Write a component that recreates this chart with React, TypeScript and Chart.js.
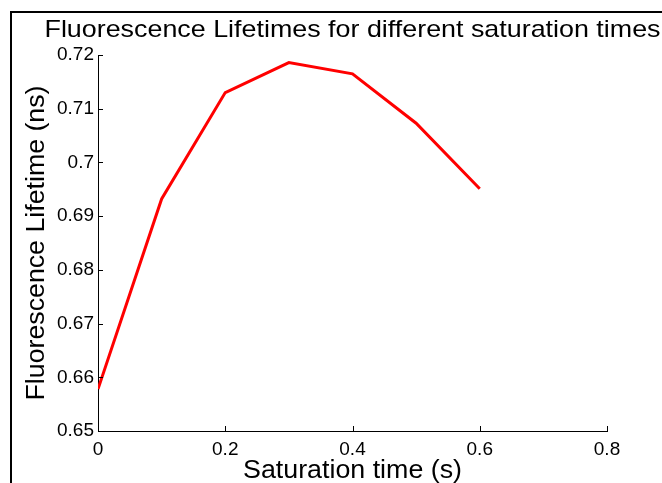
import React, { useEffect, useRef } from "react";
import { Chart, registerables } from "chart.js";

Chart.register(...registerables);

const saturationTimes = [0, 0.1, 0.2, 0.3, 0.4, 0.5, 0.6];
const lifetimes = [0.6578, 0.6932, 0.713, 0.7186, 0.7165, 0.7073, 0.6951];
const xTickValues = [0, 0.2, 0.4, 0.6, 0.8];
const yTickValues = [0.65, 0.66, 0.67, 0.68, 0.69, 0.7, 0.71, 0.72];
const chartTitle = "Fluorescence Lifetimes for different saturation times";
const xAxisTitle = "Saturation time (s)";
const yAxisTitle = "Fluorescence Lifetime (ns)";

const FONT = "'Liberation Sans', Arial, Helvetica, sans-serif";

export default function App() {
  const ref = useRef<HTMLCanvasElement>(null);

  useEffect(() => {
    const canvas = ref.current;
    if (!canvas) return;

    const drawStretched = (
      ctx: CanvasRenderingContext2D,
      text: string,
      x: number,
      y: number,
      size: number,
      targetWidth: number,
      rotate: boolean
    ) => {
      ctx.save();
      ctx.font = `${size}px ${FONT}`;
      ctx.textAlign = "center";
      ctx.textBaseline = "alphabetic";
      const w = ctx.measureText(text).width;
      const sx = targetWidth / w;
      ctx.translate(x, y);
      if (rotate) ctx.rotate(-Math.PI / 2);
      ctx.scale(sx, 1);
      ctx.fillStyle = "#000";
      ctx.fillText(text, 0, 0);
      ctx.restore();
    };

    const decor = {
      id: "matlabDecor",
      afterDraw(chart: any) {
        const { ctx, chartArea, scales } = chart;
        const xs = scales.x;
        const ys = scales.y;
        ctx.save();
        // outer figure frame
        ctx.fillStyle = "#000";
        ctx.fillRect(10, 11, chart.width - 10, 2);
        ctx.fillRect(10, 11, 2, chart.height - 11);
        // inward tick marks
        ctx.strokeStyle = "#000";
        ctx.lineWidth = 1;
        ctx.beginPath();
        for (const v of xTickValues) {
          const px = Math.round(xs.getPixelForValue(v)) + 0.5;
          ctx.moveTo(px, chartArea.bottom);
          ctx.lineTo(px, chartArea.bottom - 5);
        }
        for (const v of yTickValues) {
          const py = Math.round(ys.getPixelForValue(v)) + 0.5;
          ctx.moveTo(chartArea.left, py);
          ctx.lineTo(chartArea.left + 5, py);
        }
        ctx.stroke();
        ctx.restore();

        const cx = (chartArea.left + chartArea.right) / 2;
        const cy = (chartArea.top + chartArea.bottom) / 2;
        drawStretched(ctx, chartTitle, cx, 37, 24, 616, false);
        drawStretched(ctx, xAxisTitle, cx, 478, 25, 219, false);
        drawStretched(ctx, yAxisTitle, 43.5, cy, 25, 315, true);
      },
    };

    const tickFont = { family: FONT, size: 19 };

    const chart = new Chart(canvas, {
      type: "line",
      data: {
        datasets: [
          {
            data: saturationTimes.map((x, i) => ({ x, y: lifetimes[i] })),
            borderColor: "#ff0000",
            backgroundColor: "#ff0000",
            borderWidth: 3,
            pointRadius: 0,
            fill: false,
            tension: 0,
          },
        ],
      },
      options: {
        animation: false,
        responsive: false,
        maintainAspectRatio: false,
        layout: { padding: { left: 0, top: 55, right: 55, bottom: 0 } },
        plugins: {
          legend: { display: false },
          tooltip: { enabled: false },
          title: { display: false },
        },
        scales: {
          x: {
            type: "linear",
            min: 0,
            max: 0.8,
            afterBuildTicks: (s: any) => {
              s.ticks = xTickValues.map((v) => ({ value: v }));
            },
            afterFit: (s: any) => {
              s.height = 52;
            },
            grid: { display: false, drawTicks: false },
            border: { display: true, color: "#000", width: 1 },
            ticks: {
              color: "#000",
              font: tickFont,
              padding: 7,
              maxRotation: 0,
              autoSkip: false,
              callback: (v: any) => String(v),
            },
          },
          y: {
            type: "linear",
            min: 0.65,
            max: 0.72,
            afterBuildTicks: (s: any) => {
              s.ticks = yTickValues.map((v) => ({ value: v }));
            },
            afterFit: (s: any) => {
              s.width = 98;
            },
            grid: { display: false, drawTicks: false },
            border: { display: true, color: "#000", width: 1 },
            ticks: {
              color: "#000",
              font: tickFont,
              padding: 4,
              autoSkip: false,
              callback: (v: any) => String(v),
            },
          },
        },
      },
      plugins: [decor],
    } as any);

    return () => {
      chart.destroy();
    };
  }, []);

  return (
    <div style={{ position: "fixed", left: 0, top: 0, width: 662, height: 483, background: "#fff" }}>
      <canvas ref={ref} width={662} height={483} style={{ display: "block", width: 662, height: 483 }} />
    </div>
  );
}
